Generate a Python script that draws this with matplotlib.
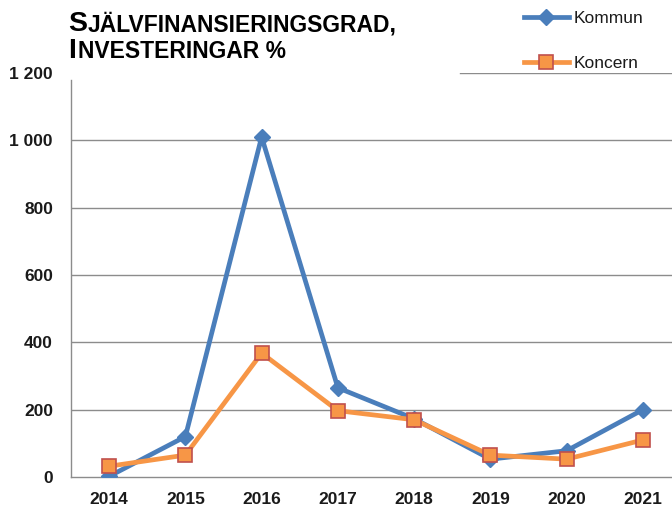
import matplotlib
matplotlib.use("Agg")
import matplotlib.pyplot as plt
from matplotlib.lines import Line2D
from matplotlib import font_manager

years = ["2014", "2015", "2016", "2017", "2018", "2019", "2020", "2021"]
kommun = [2, 120, 1010, 265, 173, 53, 78, 200]
koncern = [32, 65, 368, 197, 170, 65, 53, 110]
yticks = [0, 200, 400, 600, 800, 1000, 1200]
ytick_labels = ["0", "200", "400", "600", "800", "1 000", "1 200"]

names = {f.name for f in font_manager.fontManager.ttflist}
narrow = "Liberation Sans Narrow" if "Liberation Sans Narrow" in names else "Liberation Sans"

W, H = 672, 522
fig = plt.figure(figsize=(W / 100, H / 100), dpi=100)
left_px, right_px, bottom_px, top_px = 71, 681, 477, 73
ax = fig.add_axes([left_px / W, (H - bottom_px) / H,
                   (right_px - left_px) / W, (bottom_px - top_px) / H])

blue = "#4A7EBB"
orange = "#F79646"
x = list(range(len(years)))
ax.plot(x, kommun, color=blue, lw=3.4, marker="D", ms=8.5,
        mfc=blue, mec=blue, zorder=3, solid_joinstyle="round")
ax.plot(x, koncern, color=orange, lw=3.4, marker="s", ms=10,
        mfc=orange, mec="#C0504D", mew=1.2, zorder=4, solid_joinstyle="round")

ax.set_xlim(-0.5, 7.5)
ax.set_ylim(0, 1200)
ax.set_yticks(yticks)
ax.set_yticklabels(ytick_labels)
ax.set_xticks(x)
ax.set_xticklabels(years)
for t in ax.get_xticklabels() + ax.get_yticklabels():
    t.set_fontfamily(narrow)
    t.set_fontweight("bold")
    t.set_fontsize(12.5)
    t.set_color("#1a1a1a")
ax.tick_params(axis="both", length=0)
ax.tick_params(axis="y", pad=13)
ax.tick_params(axis="x", pad=11)

for v in yticks[1:-1]:
    ax.axhline(v, color="#8c8c8c", lw=1.0, zorder=1)
ax.axhline(1200, xmin=(460 - left_px) / (right_px - left_px), color="#8c8c8c", lw=1.0, zorder=1)

for s in ["top", "right"]:
    ax.spines[s].set_visible(False)
for s in ["left", "bottom"]:
    ax.spines[s].set_color("#8c8c8c")
    ax.spines[s].set_linewidth(1.0)
ax.spines["left"].set_bounds(0, 1180)

# Title in small caps style
tfont = "Liberation Sans"
big, small = 20.5, 16.5
fig.text(68 / W, 1 - 31 / H, "S", fontsize=big, fontweight="bold", family=tfont, color="black")
fig.text(88 / W, 1 - 31 / H, "JÄLVFINANSIERINGSGRAD,", fontsize=small, fontweight="bold", family=tfont, color="black")
fig.text(68 / W, 1 - 58 / H, "I", fontsize=big, fontweight="bold", family=tfont, color="black")
fig.text(78 / W, 1 - 58 / H, "NVESTERINGAR %", fontsize=small, fontweight="bold", family=tfont, color="black")

handles = [
    Line2D([], [], color=blue, lw=3.4, marker="D", ms=8.5, mfc=blue, mec=blue),
    Line2D([], [], color=orange, lw=3.4, marker="s", ms=10, mfc=orange, mec="#C0504D", mew=1.2),
]
leg = fig.legend(handles, ["Kommun", "Koncern"], loc="upper left",
                 bbox_to_anchor=(508 / W, 1 + 5 / H), frameon=False,
                 handlelength=2.6, handletextpad=0.3, labelspacing=1.75,
                 prop={"family": narrow, "size": 12.5})
for t in leg.get_texts():
    t.set_color("#1a1a1a")

fig.savefig("out.png", dpi=100, facecolor="white")
